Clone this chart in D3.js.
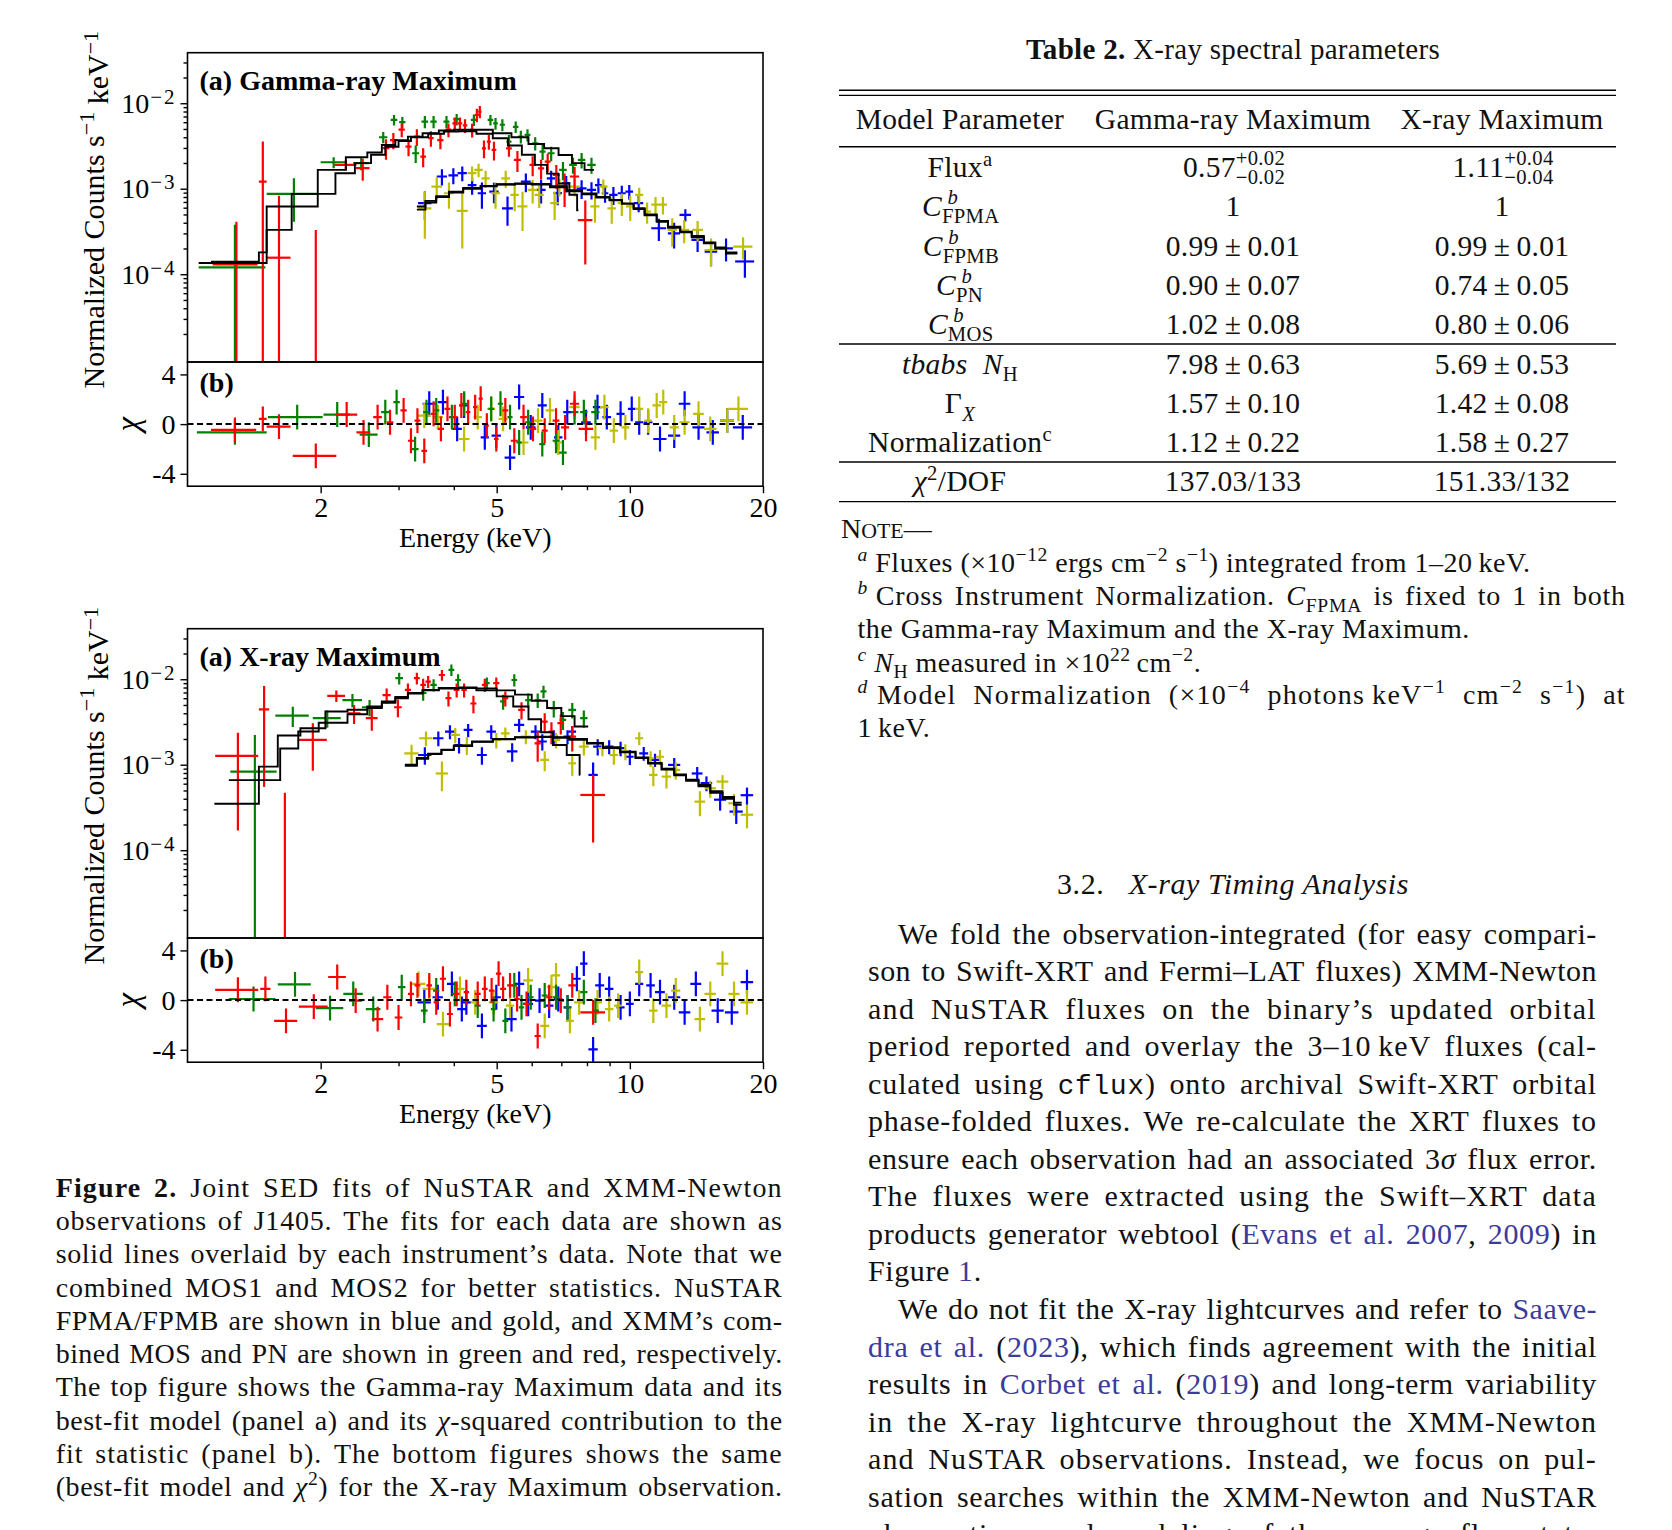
<!DOCTYPE html>
<html>
<head>
<meta charset="utf-8">
<script src="https://cdn.jsdelivr.net/npm/d3@7/dist/d3.min.js"></script>
<style>
body { margin: 0; background: #fff; }
#page { position: relative; width: 1672px; height: 1530px; overflow: hidden; background: #fff; color: #111; }
#page svg { position: absolute; left: 0; top: 0; }
.ln { position: absolute; white-space: nowrap; }
.just { display: flex; justify-content: space-between; }
.lk { color: #3b3b9c; }
.sp { font-size: 70%; position: relative; top: -0.55em; }
.sb { font-size: 70%; position: relative; top: 0.35em; }
.stk { position: relative; display: inline-block; height: 0; }
.stk span { position: absolute; left: 0; font-size: 70%; line-height: 1; }
.stk .up { bottom: 0.42em; }
.stk .dn { top: -0.48em; }
.tt { font-family: "Liberation Mono", "DejaVu Sans Mono", monospace; font-size: 92%; }
</style>
</head>
<body>
<div id="page"></div>
<script>
// ---------- Gamma-ray Maximum: spectra (flux in 1e-3 counts s^-1 keV^-1) ----------
var gPN_E   = [1.29, 1.48, 1.61, 1.95, 2.28, 2.49, 2.81, 2.92, 3.05, 3.16, 3.30, 3.41, 3.55, 3.73, 3.89, 4.02, 4.13, 4.24, 4.40, 4.51, 4.58, 4.68, 4.80, 4.93, 5.33, 5.57, 6.03, 6.30, 6.52, 6.82, 7.12, 7.50, 7.93];
var gPN_dE  = [0.15, 0.03, 0.10, 0.22, 0.13, 0.09, 0.05, 0.05, 0.05, 0.05, 0.05, 0.05, 0.05, 0.06, 0.06, 0.05, 0.05, 0.05, 0.05, 0.05, 0.04, 0.05, 0.05, 0.06, 0.08, 0.10, 0.10, 0.10, 0.10, 0.12, 0.15, 0.18, 0.30];
var gPN_f   = [0.13, 1.21, 0.156, -0.6, 1.90, 1.74, 2.98, 3.70, 4.90, 3.10, 4.07, 2.38, 3.90, 3.70, 4.90, 5.80, 5.80, 5.50, 4.87, 7.30, 7.97, 2.97, 3.56, 2.84, 2.97, 2.17, 1.90, 1.73, 2.07, 1.45, 1.06, 1.39, 0.43];
var gPN_err = [0.28, 2.35, 0.67, 0.93, 0.27, 0.50, 0.80, 0.80, 0.90, 0.70, 0.90, 0.60, 0.80, 0.80, 0.90, 1.00, 1.00, 1.00, 0.90, 1.30, 1.30, 0.70, 0.70, 0.70, 0.60, 0.60, 0.50, 0.45, 0.50, 0.45, 0.45, 0.40, 0.30];

var gMOS_E   = [1.28, 1.74, 2.14, 2.47, 2.77, 2.93, 3.06, 3.28, 3.44, 3.60, 3.85, 4.06, 4.44, 4.84, 4.97, 5.15, 5.33, 5.52, 5.67, 5.87, 6.11, 6.35, 6.64, 7.06, 7.44, 7.78, 8.19];
var gMOS_dE  = [0.22, 0.23, 0.14, 0.10, 0.06, 0.05, 0.05, 0.06, 0.06, 0.06, 0.06, 0.07, 0.07, 0.07, 0.06, 0.07, 0.07, 0.08, 0.08, 0.09, 0.10, 0.10, 0.12, 0.14, 0.15, 0.15, 0.18];
var gMOS_f   = [0.12, 0.87, 2.04, 1.99, 4.00, 6.40, 6.00, 2.60, 6.10, 6.10, 6.10, 6.50, 6.40, 6.40, 5.80, 5.60, 3.56, 5.30, 4.07, 4.26, 3.40, 2.72, 2.60, 1.66, 1.90, 2.17, 1.90];
var gMOS_err = [0.26, 0.46, 0.30, 0.35, 0.60, 0.90, 0.90, 0.60, 1.00, 1.00, 1.00, 1.00, 1.00, 0.90, 0.90, 0.90, 0.70, 0.80, 0.70, 0.70, 0.60, 0.55, 0.50, 0.40, 0.40, 0.45, 0.40];

var gFPMA_E   = [3.44, 3.76, 3.99, 4.18, 4.40, 4.63, 4.93, 5.29, 5.82, 6.30, 6.64, 6.87, 7.18, 7.78, 8.19, 8.49, 8.79, 9.18, 9.59, 9.97, 10.47, 11.63, 12.59, 13.35, 14.23, 15.26, 16.5, 18.2];
var gFPMA_dE  = [0.12, 0.10, 0.10, 0.10, 0.10, 0.10, 0.12, 0.15, 0.15, 0.15, 0.15, 0.15, 0.15, 0.20, 0.20, 0.15, 0.15, 0.20, 0.20, 0.20, 0.25, 0.45, 0.40, 0.40, 0.45, 0.50, 0.60, 0.90];
var gFPMA_f   = [0.68, 1.39, 1.43, 1.52, 1.10, 0.885, 0.925, 0.59, 1.21, 0.97, 1.32, 0.89, 1.16, 1.01, 0.97, 1.10, 0.885, 0.845, 0.885, 0.925, 0.68, 0.345, 0.30, 0.494, 0.252, 0.184, 0.201, 0.141];
var gFPMA_err = [0.25, 0.30, 0.30, 0.30, 0.25, 0.30, 0.25, 0.22, 0.30, 0.30, 0.30, 0.25, 0.25, 0.25, 0.22, 0.22, 0.20, 0.20, 0.20, 0.18, 0.15, 0.10, 0.10, 0.08, 0.07, 0.06, 0.06, 0.05];

var gFPMB_E   = [3.44, 3.66, 3.90, 4.18, 4.40, 4.55, 4.72, 4.97, 5.24, 5.49, 5.72, 6.03, 6.24, 6.76, 6.93, 7.50, 8.34, 8.71, 9.10, 9.59, 10.02, 10.5, 10.94, 11.43, 11.88, 12.47, 13.27, 14.23, 15.26, 18.03];
var gFPMB_dE  = [0.12, 0.10, 0.10, 0.12, 0.10, 0.10, 0.10, 0.12, 0.12, 0.12, 0.15, 0.15, 0.15, 0.15, 0.15, 0.20, 0.20, 0.20, 0.20, 0.20, 0.22, 0.22, 0.22, 0.25, 0.25, 0.30, 0.35, 0.40, 0.50, 0.90];
var gFPMB_f   = [0.59, 1.06, 0.885, 0.55, 1.52, 1.66, 1.32, 0.885, 1.32, 0.845, 0.62, 0.97, 0.845, 0.68, 1.06, 1.06, 0.62, 1.06, 0.59, 0.68, 0.62, 0.845, 0.54, 0.65, 0.65, 0.33, 0.33, 0.33, 0.192, 0.21];
var gFPMB_err = [0.33, 0.30, 0.30, 0.35, 0.30, 0.30, 0.30, 0.30, 0.30, 0.30, 0.30, 0.30, 0.25, 0.25, 0.25, 0.25, 0.22, 0.22, 0.20, 0.20, 0.20, 0.18, 0.15, 0.15, 0.15, 0.12, 0.10, 0.09, 0.07, 0.06];

// model step curves (bin edges in keV, values in 1e-3)
var gPN_mEdges  = [1.13, 1.45, 1.51, 1.72, 2.16, 2.39, 2.6, 2.8, 3.0, 3.2, 3.5, 3.8, 4.1, 4.5, 4.9, 5.3, 5.7, 6.1, 6.5, 6.9, 7.3, 7.6, 7.65];
var gPN_mVals   = [0.14, 0.18, 0.33, 0.87, 1.52, 1.99, 2.5, 3.1, 3.6, 4.0, 4.4, 4.65, 4.7, 4.4, 3.9, 3.2, 2.5, 1.9, 1.5, 1.15, 0.85, 0.56];
var gMOS_mEdges = [1.06, 1.51, 1.97, 2.28, 2.55, 2.75, 2.95, 3.15, 3.4, 3.7, 4.0, 4.4, 4.9, 5.4, 5.9, 6.4, 6.9, 7.4, 7.9, 8.3];
var gMOS_mVals  = [0.135, 0.62, 1.66, 2.33, 2.65, 3.25, 3.7, 4.07, 4.45, 4.8, 4.9, 4.9, 4.45, 4.0, 3.34, 2.97, 2.48, 1.99, 1.66];
var gNu_mEdges  = [3.3, 3.45, 3.65, 3.9, 4.2, 4.6, 5.0, 5.5, 6.0, 6.6, 7.2, 7.8, 8.4, 9.0, 9.6, 10.2, 10.8, 11.5, 12.2, 13.0, 13.8, 14.7, 15.6, 16.5, 17.5];
var gFPMA_mVals = [0.62, 0.72, 0.82, 0.92, 1.02, 1.08, 1.13, 1.15, 1.14, 1.07, 0.93, 0.86, 0.79, 0.73, 0.67, 0.59, 0.50, 0.41, 0.35, 0.31, 0.28, 0.235, 0.205, 0.18];
var gFPMB_mVals = [0.57, 0.69, 0.80, 0.90, 1.00, 1.07, 1.12, 1.14, 1.12, 1.04, 0.96, 0.88, 0.80, 0.74, 0.67, 0.58, 0.49, 0.42, 0.36, 0.315, 0.27, 0.23, 0.20, 0.175];

// residuals (chi)
var gPN_rE   = [1.28, 1.48, 1.61, 1.95, 2.29, 2.5, 2.69, 2.87, 3.08, 3.2, 3.31, 3.43, 3.6, 3.74, 3.87, 4.02, 4.16, 4.31, 4.47, 4.6, 4.75, 4.99, 5.23, 5.48, 5.75, 6.04, 6.42, 6.81, 7.14, 7.5, 7.96];
var gPN_rdE  = [0.15, 0.03, 0.10, 0.22, 0.13, 0.09, 0.06, 0.05, 0.05, 0.05, 0.05, 0.05, 0.05, 0.06, 0.06, 0.05, 0.05, 0.05, 0.05, 0.05, 0.05, 0.06, 0.08, 0.10, 0.10, 0.10, 0.10, 0.12, 0.15, 0.18, 0.30];
var gPN_chi  = [-0.47, 0.42, -0.2, -2.56, 0.77, -0.66, 0.56, 0.15, 1.1, -1.34, 0.28, -2.15, 0.83, -0.39, 1.23, 0.56, 1.5, 0.96, 1.37, 2.05, -0.12, -1.2, 1.1, -1.34, 0.56, -0.39, -0.53, 0.28, -0.26, 1.64, -0.39];
var gMOS_rE  = [1.28, 1.77, 2.18, 2.57, 2.8, 2.97, 3.27, 3.47, 3.65, 3.96, 4.22, 4.86, 5.1, 5.36, 5.62, 5.89, 6.34, 6.81, 7.06, 7.5, 7.87, 8.36];
var gMOS_rdE = [0.23, 0.25, 0.15, 0.12, 0.06, 0.05, 0.06, 0.06, 0.06, 0.06, 0.07, 0.07, 0.07, 0.07, 0.08, 0.09, 0.10, 0.12, 0.14, 0.15, 0.15, 0.18];
var gMOS_chi = [-0.66, 0.56, 0.77, -0.85, 0.96, 1.77, -2.02, 0.96, 1.1, 0.56, 1.64, 1.23, 1.64, 0.56, -1.48, 0.15, -1.61, -1.34, -2.29, 0.96, 0.96, 0.96];
var gFPMA_rE  = [3.52, 3.78, 4.07, 4.22, 4.7, 4.99, 5.36, 5.62, 5.97, 6.34, 6.89, 7.22, 7.96, 8.45, 8.87, 9.53, 10.1, 10.5, 11.0, 11.7, 12.6, 13.3, 14.3, 15.4, 16.6, 18.0];
var gFPMA_rdE = [0.12, 0.10, 0.10, 0.10, 0.10, 0.12, 0.15, 0.15, 0.15, 0.15, 0.15, 0.15, 0.20, 0.20, 0.20, 0.20, 0.20, 0.22, 0.25, 0.40, 0.40, 0.40, 0.45, 0.50, 0.60, 0.90];
var gFPMA_chi = [1.64, 1.77, -0.39, 1.5, -1.07, -0.93, -2.7, 2.18, -0.26, 1.5, -1.07, 0.96, 0.15, 1.37, 0.56, 0.83, 1.23, 0.15, 0.15, -1.2, -0.93, 1.64, -0.26, -0.66, 0.28, -0.26];
var gFPMB_rE  = [3.43, 3.68, 4.22, 4.53, 4.86, 5.17, 5.75, 6.2, 6.6, 6.89, 7.5, 8.36, 8.76, 9.2, 9.77, 10.5, 11.0, 11.5, 11.9, 12.6, 13.3, 14.3, 15.2, 16.6, 17.6];
var gFPMB_rdE = [0.12, 0.10, 0.12, 0.10, 0.10, 0.12, 0.15, 0.15, 0.15, 0.15, 0.20, 0.20, 0.20, 0.20, 0.20, 0.22, 0.22, 0.25, 0.25, 0.30, 0.35, 0.40, 0.50, 0.60, 0.90];
var gFPMB_chi = [0.69, 0.56, -1.2, 0.56, 1.23, 0.42, -1.48, 0.28, 1.1, -1.48, 1.37, -1.07, 1.37, -0.53, -0.26, 1.23, 0.28, 1.5, 1.77, -0.26, 0.15, 0.83, -0.39, 0.28, 1.23];

// ---------- X-ray Maximum ----------
var xPN_E   = [1.30, 1.49, 1.66, 1.92, 2.17, 2.38, 2.61, 2.82, 2.99, 3.15, 3.30, 3.41, 3.50, 3.76, 3.89, 4.06, 4.22, 4.43, 4.70, 4.99, 5.23, 5.69, 6.19, 6.42, 6.65, 6.98, 7.41, 8.26];
var xPN_dE  = [0.145, 0.04, 0.10, 0.145, 0.10, 0.08, 0.08, 0.06, 0.06, 0.05, 0.05, 0.05, 0.05, 0.06, 0.06, 0.06, 0.06, 0.07, 0.07, 0.08, 0.08, 0.10, 0.10, 0.10, 0.10, 0.12, 0.15, 0.53];
var xPN_f   = [1.27, 4.45, -0.1, 1.95, 6.4, 4.0, 3.5, 6.5, 4.7, 7.5, 10.3, 8.6, 9.4, 11.2, 6.0, 7.5, 7.5, 5.2, 8.6, 9.0, 6.0, 4.38, 1.78, 3.19, 2.44, 3.06, 2.13, 0.443];
var xPN_err = [1.1, 3.9, 0.57, 1.1, 1.0, 1.0, 1.0, 1.3, 1.1, 1.4, 1.6, 1.5, 1.5, 1.6, 1.2, 1.4, 1.4, 1.2, 1.5, 1.5, 1.2, 1.0, 0.7, 0.8, 0.7, 0.8, 0.7, 0.32];

var xMOS_E   = [1.42, 1.73, 2.07, 2.36, 2.58, 3.01, 3.41, 3.60, 3.95, 4.09, 4.75, 5.17, 5.48, 5.89, 6.19, 6.38, 6.73, 7.06, 7.41, 7.87];
var xMOS_dE  = [0.17, 0.15, 0.15, 0.12, 0.10, 0.06, 0.06, 0.06, 0.06, 0.06, 0.07, 0.08, 0.08, 0.09, 0.10, 0.10, 0.12, 0.12, 0.15, 0.15];
var xMOS_f   = [0.83, 3.76, 3.5, 5.7, 4.7, 10.3, 6.9, 8.6, 12.9, 9.8, 9.0, 5.5, 9.8, 5.7, 5.7, 7.2, 4.57, 3.34, 4.38, 3.5];
var xMOS_err = [1.4, 1.0, 0.8, 1.0, 1.0, 1.6, 1.3, 1.4, 2.0, 1.6, 1.5, 1.1, 1.6, 1.1, 1.1, 1.2, 1.0, 0.8, 0.9, 0.8];

var xFPMA_E   = [3.44, 3.69, 3.92, 4.11, 4.31, 4.63, 4.86, 5.42, 5.62, 6.12, 6.34, 6.73, 7.23, 7.41, 8.26, 8.46, 8.98, 9.53, 10.0, 10.75, 11.4, 12.6, 14.2, 14.9, 16.0, 17.4, 18.4];
var xFPMA_dE  = [0.12, 0.10, 0.10, 0.10, 0.10, 0.12, 0.12, 0.15, 0.15, 0.15, 0.15, 0.15, 0.15, 0.15, 0.20, 0.20, 0.20, 0.20, 0.20, 0.25, 0.30, 0.40, 0.40, 0.45, 0.50, 0.60, 0.60];
var xFPMA_f   = [1.3, 2.04, 2.44, 1.7, 2.55, 1.3, 2.44, 1.43, 2.92, 2.44, 1.87, 2.13, 2.13, 2.44, 0.76, 1.63, 1.63, 1.56, 1.24, 1.36, 1.14, 0.995, 0.79, 0.61, 0.39, 0.283, 0.44];
var xFPMA_err = [0.30, 0.40, 0.45, 0.35, 0.45, 0.30, 0.45, 0.35, 0.50, 0.45, 0.40, 0.40, 0.40, 0.40, 0.30, 0.35, 0.30, 0.30, 0.25, 0.25, 0.20, 0.20, 0.15, 0.12, 0.10, 0.08, 0.10];

var xFPMB_E   = [3.21, 3.46, 3.76, 4.03, 4.28, 4.99, 5.23, 5.82, 6.42, 6.81, 7.41, 7.87, 8.67, 9.2, 9.77, 10.5, 11.14, 11.3, 11.7, 12.1, 12.7, 14.4, 15.2, 16.2, 17.2, 18.4];
var xFPMB_dE  = [0.12, 0.12, 0.12, 0.10, 0.10, 0.12, 0.12, 0.15, 0.15, 0.15, 0.15, 0.20, 0.20, 0.20, 0.20, 0.22, 0.22, 0.25, 0.25, 0.30, 0.30, 0.40, 0.45, 0.50, 0.50, 0.60];
var xFPMB_f   = [1.36, 2.04, 0.79, 2.23, 1.7, 1.95, 2.33, 2.13, 1.14, 1.95, 1.04, 1.63, 1.56, 1.3, 1.43, 2.04, 1.19, 0.76, 1.24, 0.726, 0.87, 0.37, 0.53, 0.635, 0.354, 0.26];
var xFPMB_err = [0.35, 0.40, 0.30, 0.45, 0.40, 0.40, 0.40, 0.40, 0.30, 0.40, 0.30, 0.35, 0.30, 0.30, 0.30, 0.35, 0.25, 0.20, 0.25, 0.20, 0.20, 0.12, 0.12, 0.12, 0.10, 0.08];

var xPN_mEdges  = [1.15, 1.45, 1.62, 1.78, 1.98, 2.3, 2.55, 2.75, 2.95, 3.15, 3.4, 3.7, 4.1, 4.5, 5.0, 5.45, 5.9, 6.3, 6.7, 7.2, 7.7, 7.72];
var xPN_mVals   = [0.35, 0.66, 1.55, 2.45, 3.1, 3.9, 4.6, 5.3, 6.0, 6.8, 7.4, 7.8, 7.9, 7.4, 6.3, 4.8, 3.4, 2.4, 1.7, 1.3, 0.76];
var xMOS_mEdges = [1.24, 1.45, 1.6, 1.8, 2.05, 2.3, 2.55, 2.75, 2.95, 3.15, 3.4, 3.7, 4.1, 4.5, 5.0, 5.5, 6.0, 6.5, 7.0, 7.5, 8.05];
var xMOS_mVals  = [0.66, 0.95, 2.2, 2.67, 4.2, 4.4, 4.8, 5.5, 6.2, 6.9, 7.5, 7.9, 8.0, 7.8, 7.4, 6.6, 5.6, 4.6, 3.7, 2.8];
var xNu_mEdges  = [3.1, 3.3, 3.5, 3.75, 4.0, 4.4, 4.9, 5.5, 6.1, 6.7, 7.3, 8.0, 8.7, 9.5, 10.3, 11.0, 11.8, 12.6, 13.4, 14.3, 15.2, 16.2, 17.2, 17.9];
var xFPMA_mVals = [1.0, 1.2, 1.35, 1.5, 1.68, 1.87, 2.0, 2.1, 2.13, 2.1, 2.0, 1.8, 1.6, 1.42, 1.22, 1.05, 0.90, 0.77, 0.67, 0.58, 0.49, 0.42, 0.36];
var xFPMB_mVals = [0.97, 1.17, 1.33, 1.48, 1.65, 1.85, 1.98, 2.08, 2.11, 2.07, 1.96, 1.77, 1.57, 1.40, 1.20, 1.03, 0.88, 0.75, 0.65, 0.56, 0.47, 0.40, 0.34];

var xPN_rE   = [1.3, 1.5, 1.67, 1.93, 2.18, 2.4, 2.69, 2.83, 3.0, 3.2, 3.31, 3.52, 3.65, 3.78, 3.92, 4.06, 4.27, 4.53, 4.7, 4.87, 5.05, 5.17, 5.36, 5.56, 5.84, 6.19, 6.57, 6.98, 7.41, 8.26];
var xPN_rdE  = [0.145, 0.04, 0.10, 0.145, 0.10, 0.08, 0.08, 0.06, 0.06, 0.05, 0.05, 0.05, 0.05, 0.06, 0.06, 0.06, 0.06, 0.07, 0.07, 0.07, 0.07, 0.08, 0.08, 0.08, 0.10, 0.10, 0.10, 0.12, 0.15, 0.53];
var xPN_chi  = [0.83, 0.91, -1.67, -0.53, 1.86, -0.04, -1.53, 0.23, -1.4, 0.5, 1.18, 1.18, -0.18, 1.72, -1.12, 0.5, 0.64, 0.5, 0.91, 0.77, 2.13, 0.91, 1.18, 0.09, -0.31, -2.89, 0.23, -0.04, 1.18, -0.99];
var xMOS_rE  = [1.41, 1.75, 2.1, 2.37, 2.63, 3.05, 3.43, 3.65, 4.02, 4.53, 4.92, 5.23, 5.48, 5.69, 5.97, 6.42, 6.81, 7.23, 7.87, 8.36];
var xMOS_rdE = [0.17, 0.15, 0.15, 0.12, 0.10, 0.06, 0.06, 0.06, 0.06, 0.07, 0.07, 0.08, 0.08, 0.08, 0.09, 0.10, 0.12, 0.12, 0.15, 0.15];
var xMOS_chi = [0.09, 1.26, -0.64, 0.5, -0.72, 1.04, -0.85, 0.77, 0.5, -0.45, -0.72, -1.67, 1.18, -0.58, 0.23, 0.37, 0.23, -0.58, 0.64, -0.85];
var xFPMA_rE  = [3.43, 3.68, 3.96, 4.17, 4.27, 4.63, 4.99, 5.4, 5.62, 5.89, 6.25, 6.57, 6.89, 7.23, 7.59, 7.87, 8.26, 8.55, 8.98, 9.53, 10.0, 10.5, 11.14, 11.7, 12.6, 13.3, 14.1, 15.8, 17.0, 18.4];
var xFPMA_rdE = [0.12, 0.10, 0.10, 0.10, 0.10, 0.12, 0.12, 0.15, 0.15, 0.15, 0.15, 0.15, 0.15, 0.15, 0.15, 0.15, 0.20, 0.20, 0.20, 0.20, 0.20, 0.22, 0.25, 0.30, 0.40, 0.40, 0.40, 0.50, 0.60, 0.60];
var xFPMA_chi = [-0.18, 0.23, 1.31, -0.72, -0.18, -2.07, 0.23, -1.53, 1.31, -0.31, -0.04, -0.45, 0.09, -0.58, 1.72, 2.94, -3.97, 1.18, 0.91, -0.58, -0.31, 1.31, 1.18, 0.64, 0.23, -0.99, 1.31, -0.85, -0.99, 1.45];
var xFPMB_rE  = [3.33, 3.52, 3.78, 4.13, 4.47, 4.92, 5.36, 5.89, 6.42, 6.65, 6.81, 7.32, 7.68, 8.45, 8.98, 9.41, 10.5, 11.3, 12.1, 12.7, 14.4, 15.2, 16.2, 17.2, 18.4];
var xFPMB_rdE = [0.12, 0.12, 0.12, 0.10, 0.10, 0.12, 0.12, 0.15, 0.15, 0.15, 0.15, 0.15, 0.20, 0.20, 0.20, 0.20, 0.22, 0.25, 0.30, 0.30, 0.40, 0.45, 0.50, 0.50, 0.60];
var xFPMB_chi = [1.31, 0.91, -1.94, 0.91, -0.18, -0.18, -0.45, 1.59, -2.07, 1.04, 1.99, -1.67, -0.18, -0.18, -0.72, -0.45, 2.26, -0.85, -0.45, 0.77, -1.53, 0.5, 2.94, 0.5, -0.18];

// axis ticks
var xMajor = [2, 5, 10, 20];
var xMinor = [3, 4, 6, 7, 8, 9];
var yMajor = [1e-4, 1e-3, 1e-2];
var rMajor = [-4, 0, 4];

var colPN = "#ff0000", colMOS = "#008000", colFPMA = "#0000ff", colFPMB = "#bfbf00";

var page = d3.select("#page");
var svg = page.append("svg").attr("width", 1672).attr("height", 1530);

var X0 = 187.5, X1 = 763, HA = 309.3, HB = 124.2;
var FONT = "Liberation Serif, Times New Roman, serif";

function pts(E, dE, f, err) {
    return E.map(function(e, i){ return {e: e, de: dE[i], f: f[i] * 1e-3, err: err[i] * 1e-3}; });
}
function res(E, dE, chi) {
    return E.map(function(e, i){ return {e: e, de: dE[i], f: chi[i], err: 1}; });
}
function steps(edges, vals) {
    return edges.map(function(e, i){ return {e: e, v: vals[Math.min(i, vals.length - 1)] * 1e-3}; });
}

function errBars(g, data, x, y, color, logY) {
    var bottom = y.range()[0];
    var lo = y.domain()[0];
    var s = g.append("g").attr("stroke", color).attr("stroke-width", 2.2)
        .selectAll("g").data(data).join("g");
    s.append("line")
        .attr("x1", function(d){ return x(d.e); })
        .attr("x2", function(d){ return x(d.e); })
        .attr("y1", function(d){ return (!logY || d.f - d.err > lo) ? y(d.f - d.err) : bottom + 5; })
        .attr("y2", function(d){ return y(d.f + d.err); });
    s.filter(function(d){ return !logY || d.f > 0; }).append("line")
        .attr("x1", function(d){ return x(d.e - d.de); })
        .attr("x2", function(d){ return x(d.e + d.de); })
        .attr("y1", function(d){ return y(d.f); })
        .attr("y2", function(d){ return y(d.f); });
}

var clipN = 0;
function drawSpectrum(top, title, sets, models, resids) {
    var x = d3.scaleLog().domain([1, 20]).range([X0, X1]);
    var yA = d3.scaleLog().domain([9.4e-6, 3.9e-2]).range([top + HA, top]);
    var yB = d3.scaleLinear().domain([-5, 5]).range([top + HA + HB, top + HA]);

    var g = svg.append("g");
    var idA = "clipA" + (clipN), idB = "clipB" + (clipN++);
    g.append("clipPath").attr("id", idA).append("rect")
        .attr("x", X0).attr("y", top).attr("width", X1 - X0).attr("height", HA);
    g.append("clipPath").attr("id", idB).append("rect")
        .attr("x", X0).attr("y", top + HA).attr("width", X1 - X0).attr("height", HB);

    var pa = g.append("g").attr("clip-path", "url(#" + idA + ")");
    sets.forEach(function(s){ errBars(pa, s.data, x, yA, s.color, true); });
    var line = d3.line().x(function(d){ return x(d.e); }).y(function(d){ return yA(d.v); })
        .curve(d3.curveStepAfter);
    models.forEach(function(m){
        pa.append("path").attr("d", line(m)).attr("fill", "none")
            .attr("stroke", "#000").attr("stroke-width", 1.9);
    });

    var pb = g.append("g").attr("clip-path", "url(#" + idB + ")");
    resids.forEach(function(s){ errBars(pb, s.data, x, yB, s.color, false); });
    pb.append("line").attr("x1", X0).attr("x2", X1).attr("y1", yB(0)).attr("y2", yB(0))
        .attr("stroke", "#000").attr("stroke-width", 2).attr("stroke-dasharray", "6,3.5");

    // frames
    g.append("rect").attr("x", X0).attr("y", top).attr("width", X1 - X0).attr("height", HA)
        .attr("fill", "none").attr("stroke", "#000").attr("stroke-width", 1.6);
    g.append("rect").attr("x", X0).attr("y", top + HA).attr("width", X1 - X0).attr("height", HB)
        .attr("fill", "none").attr("stroke", "#000").attr("stroke-width", 1.6);

    // y axis panel a
    var yMinor = [];
    for (var k = -6; k <= -2; k++) for (var m = 2; m <= 9; m++) {
        var v = m * Math.pow(10, k);
        if (v > 9.4e-6 && v < 3.9e-2) yMinor.push(v);
    }
    var ayMin = g.append("g").attr("transform", "translate(" + X0 + ",0)")
        .call(d3.axisLeft(yA).tickValues(yMinor).tickSize(4).tickSizeOuter(0).tickFormat(""));
    var ay = g.append("g").attr("transform", "translate(" + X0 + ",0)")
        .call(d3.axisLeft(yA).tickValues(yMajor).tickSize(7).tickSizeOuter(0).tickPadding(4).tickFormat(""));
    ay.selectAll(".tick text").each(function(d){
        var t = d3.select(this);
        t.append("tspan").text("10");
        t.append("tspan").attr("dy", "-0.42em").attr("dx", "1").attr("font-size", "21px")
            .attr("letter-spacing", "2px").text("\u2212" + Math.abs(Math.round(Math.log10(d))));
    });
    // y axis panel b
    var ar = g.append("g").attr("transform", "translate(" + X0 + ",0)")
        .call(d3.axisLeft(yB).tickValues(rMajor).tickSize(7).tickSizeOuter(0).tickPadding(5)
            .tickFormat(function(d){ return String(d); }));
    // x axis
    var axMin = g.append("g").attr("transform", "translate(0," + (top + HA + HB) + ")")
        .call(d3.axisBottom(x).tickValues(xMinor).tickSize(4).tickSizeOuter(0).tickFormat(""));
    var ax = g.append("g").attr("transform", "translate(0," + (top + HA + HB) + ")")
        .call(d3.axisBottom(x).tickValues(xMajor).tickSize(7).tickSizeOuter(0).tickPadding(4)
            .tickFormat(d3.format("d")));

    [ayMin, ay, ar, axMin, ax].forEach(function(a){
        a.select(".domain").remove();
        a.selectAll(".tick line").attr("stroke", "#000").attr("stroke-width", 1.4);
        a.selectAll("text").attr("font-family", FONT).attr("font-size", "28px").attr("fill", "#000");
    });

    // titles and labels
    g.append("text").attr("x", 199.5).attr("y", top + 37.5).attr("font-family", FONT)
        .attr("font-weight", "bold").attr("font-size", "28px").text(title);
    g.append("text").attr("x", 199.5).attr("y", top + 339.5).attr("font-family", FONT)
        .attr("font-weight", "bold").attr("font-size", "28px").text("(b)");
    g.append("text").attr("x", (X0 + X1) / 2).attr("y", top + 494).attr("text-anchor", "middle")
        .attr("font-family", FONT).attr("font-size", "28px").text("Energy (keV)");

    var yl = g.append("text").attr("transform", "translate(104," + (top + 157) + ") rotate(-90)")
        .attr("text-anchor", "middle").attr("font-family", FONT).attr("font-size", "30px");
    yl.append("tspan").text("Normalized Counts s");
    yl.append("tspan").attr("dy", "-0.45em").attr("font-size", "22px").text("\u22121");
    yl.append("tspan").attr("dy", "0.45em").text(" keV");
    yl.append("tspan").attr("dy", "-0.45em").attr("font-size", "22px").text("\u22121");

    g.append("text").attr("transform", "translate(139," + (top + 371.5) + ") rotate(-90)")
        .attr("text-anchor", "middle").attr("font-family", FONT).attr("font-style", "italic")
        .attr("font-size", "33px").text("\u03c7");
}

drawSpectrum(52.7, "(a) Gamma-ray Maximum",
    [{data: pts(gFPMA_E, gFPMA_dE, gFPMA_f, gFPMA_err), color: colFPMA},
     {data: pts(gFPMB_E, gFPMB_dE, gFPMB_f, gFPMB_err), color: colFPMB},
     {data: pts(gMOS_E, gMOS_dE, gMOS_f, gMOS_err), color: colMOS},
     {data: pts(gPN_E, gPN_dE, gPN_f, gPN_err), color: colPN}],
    [steps(gMOS_mEdges, gMOS_mVals), steps(gPN_mEdges, gPN_mVals),
     steps(gNu_mEdges, gFPMA_mVals), steps(gNu_mEdges, gFPMB_mVals)],
    [{data: res(gFPMA_rE, gFPMA_rdE, gFPMA_chi), color: colFPMA},
     {data: res(gFPMB_rE, gFPMB_rdE, gFPMB_chi), color: colFPMB},
     {data: res(gMOS_rE, gMOS_rdE, gMOS_chi), color: colMOS},
     {data: res(gPN_rE, gPN_rdE, gPN_chi), color: colPN}]);

drawSpectrum(628.7, "(a) X-ray Maximum",
    [{data: pts(xFPMA_E, xFPMA_dE, xFPMA_f, xFPMA_err), color: colFPMA},
     {data: pts(xFPMB_E, xFPMB_dE, xFPMB_f, xFPMB_err), color: colFPMB},
     {data: pts(xMOS_E, xMOS_dE, xMOS_f, xMOS_err), color: colMOS},
     {data: pts(xPN_E, xPN_dE, xPN_f, xPN_err), color: colPN}],
    [steps(xMOS_mEdges, xMOS_mVals), steps(xPN_mEdges, xPN_mVals),
     steps(xNu_mEdges, xFPMA_mVals), steps(xNu_mEdges, xFPMB_mVals)],
    [{data: res(xFPMA_rE, xFPMA_rdE, xFPMA_chi), color: colFPMA},
     {data: res(xFPMB_rE, xFPMB_rdE, xFPMB_chi), color: colFPMB},
     {data: res(xMOS_rE, xMOS_rdE, xMOS_chi), color: colMOS},
     {data: res(xPN_rE, xPN_rdE, xPN_chi), color: colPN}]);

// ---------- table ----------
var tableRules = [90.2, 95.4, 146.8, 344, 462, 501.6];
svg.selectAll(".rule").data(tableRules).join("line").attr("class", "rule")
    .attr("x1", 839).attr("x2", 1616).attr("y1", function(d){ return d; }).attr("y2", function(d){ return d; })
    .attr("stroke", "#000").attr("stroke-width", 1.4);

// one line of page text; justified lines spread their slack over letters and word gaps
function line(x, cy, w, html, o) {
    o = o || {};
    var fs = o.fs || 30, L = o.lh || 37.5;
    var div = page.append("div").attr("class", "ln")
        .style("font-family", FONT)
        .style("left", x + "px").style("top", (cy - L / 2 - 0.09 * fs) + "px")
        .style("font-size", fs + "px").style("line-height", L + "px")
        .style("letter-spacing", (o.ls || 0) + "px");
    if (o.justify) {
        div.html(html);
        var nat = div.node().getBoundingClientRect().width;
        var n = div.node().textContent.length;
        var ls = Math.max(-0.3, Math.min(1.3, (w - nat) * 0.6 / n));
        div.html("").classed("just", true).style("width", w + "px").style("letter-spacing", ls + "px");
        html.split(/ (?![^<]*>)/).forEach(function(wd){ div.append("span").html(wd); });
    } else if (o.center) {
        div.style("left", (x - w / 2) + "px").style("width", w + "px").style("text-align", "center").html(html);
    } else {
        div.html(html);
    }
    return div;
}

var tableCols = [960, 1233, 1502];
var tableRowsY = [170, 209, 248.5, 288, 326.8, 366.4, 406, 444.6, 484];
var tableHead = ["Model Parameter", "Gamma-ray Maximum", "X-ray Maximum"];
var tableParams = [
    'Flux<span class="sp">a</span>',
    '<i>C</i><span class="stk" style="width:1.9em"><span class="up">&nbsp;<i>b</i></span><span class="dn">FPMA</span></span>',
    '<i>C</i><span class="stk" style="width:1.85em"><span class="up">&nbsp;<i>b</i></span><span class="dn">FPMB</span></span>',
    '<i>C</i><span class="stk" style="width:0.95em"><span class="up">&nbsp;<i>b</i></span><span class="dn">PN</span></span>',
    '<i>C</i><span class="stk" style="width:1.5em"><span class="up">&nbsp;<i>b</i></span><span class="dn">MOS</span></span>',
    '<i>tbabs</i>&nbsp; <i>N</i><span class="sb">H</span>',
    '\u0393<span class="sb"><i>X</i></span>',
    'Normalization<span class="sp">c</span>',
    '<i>\u03c7</i><span class="sp">2</span>/DOF'];
var tableGamma = ['0.57<span class="stk" style="width:1.6em"><span class="up">+0.02</span><span class="dn">\u22120.02</span></span>',
    "1", "0.99&#8201;\u00b1&#8201;0.01", "0.90&#8201;\u00b1&#8201;0.07", "1.02&#8201;\u00b1&#8201;0.08",
    "7.98&#8201;\u00b1&#8201;0.63", "1.57&#8201;\u00b1&#8201;0.10", "1.12&#8201;\u00b1&#8201;0.22", "137.03/133"];
var tableXray = ['1.11<span class="stk" style="width:1.6em"><span class="up">+0.04</span><span class="dn">\u22120.04</span></span>',
    "1", "0.99&#8201;\u00b1&#8201;0.01", "0.74&#8201;\u00b1&#8201;0.05", "0.80&#8201;\u00b1&#8201;0.06",
    "5.69&#8201;\u00b1&#8201;0.53", "1.42&#8201;\u00b1&#8201;0.08", "1.58&#8201;\u00b1&#8201;0.27", "151.33/132"];

var TFS = 29.5;
line(1233, 52.6, 700, "<b>Table 2.</b> X-ray spectral parameters", {center: true, fs: 29, ls: 0.3});
tableHead.forEach(function(h, i){ line(tableCols[i], 122, 380, h, {center: true, fs: TFS, ls: 0.3}); });
tableRowsY.forEach(function(cy, r){
    line(tableCols[0], cy, 380, tableParams[r], {center: true, fs: TFS, ls: 0.3, lh: 30});
    line(tableCols[1], cy, 380, tableGamma[r], {center: true, fs: TFS, ls: 0.3, lh: 30});
    line(tableCols[2], cy, 380, tableXray[r], {center: true, fs: TFS, ls: 0.3, lh: 30});
});

// notes
var NFS = 28, NL = 27;
line(841, 531.5, 0, 'N<span style="font-size:78%">OTE</span>\u2014', {fs: NFS, lh: NL});
line(857.5, 565, 0, '<span class="sp"><i>a</i></span>&nbsp;Fluxes (\u00d710<span class="sp">\u221212</span> ergs cm<span class="sp">\u22122</span> s<span class="sp">\u22121</span>) integrated from 1\u201320&#8201;keV.', {fs: NFS, lh: NL, ls: 0.5});
line(857.5, 598, 768.5, '<span class="sp"><i>b</i></span>&nbsp;Cross Instrument Normalization. <i>C</i><span class="sb">FPMA</span> is fixed to 1 in both', {fs: NFS, lh: NL, justify: true});
line(857.5, 631.4, 0, 'the Gamma-ray Maximum and the X-ray Maximum.', {fs: NFS, lh: NL, ls: 0.5});
line(857.5, 664.6, 0, '<span class="sp"><i>c</i></span>&nbsp;<i>N</i><span class="sb">H</span> measured in \u00d710<span class="sp">22</span>&#8201;cm<span class="sp">\u22122</span>.', {fs: NFS, lh: NL, ls: 0.5});
line(857.5, 696.7, 768.5, '<span class="sp"><i>d</i></span>&nbsp;Model Normalization (\u00d710<span class="sp">\u22124</span> photons&#8201;keV<span class="sp">\u22121</span> cm<span class="sp">\u22122</span> s<span class="sp">\u22121</span>) at', {fs: NFS, lh: NL, justify: true});
line(857.5, 730, 0, '1&#8201;keV.', {fs: NFS, lh: NL, ls: 0.5});

// section text
line(1233, 886.5, 729, '3.2.&nbsp;&nbsp; <i>X-ray Timing Analysis</i>', {center: true, fs: 30, ls: 0.6});

var para1 = [
    "We fold the observation-integrated (for easy compari-",
    "son to Swift-XRT and Fermi\u2013LAT fluxes) XMM-Newton",
    "and NuSTAR fluxes on the binary\u2019s updated orbital",
    "period reported and overlay the 3\u201310&#8201;keV fluxes (cal-",
    'culated using <span class="tt">cflux</span>) onto archival Swift-XRT orbital',
    "phase-folded fluxes. We re-calculate the XRT fluxes to",
    "ensure each observation had an associated 3<i>\u03c3</i> flux error.",
    "The fluxes were extracted using the Swift\u2013XRT data",
    'products generator webtool (<span class="lk">Evans</span> <span class="lk">et</span> <span class="lk">al.</span> <span class="lk">2007</span>, <span class="lk">2009</span>) in'];
var para2 = [
    'We do not fit the X-ray lightcurves and refer to <span class="lk">Saave-</span>',
    '<span class="lk">dra</span> <span class="lk">et</span> <span class="lk">al.</span> (<span class="lk">2023</span>), which finds agreement with the initial',
    'results in <span class="lk">Corbet</span> <span class="lk">et</span> <span class="lk">al.</span> (<span class="lk">2019</span>) and long-term variability',
    "in the X-ray lightcurve throughout the XMM-Newton",
    "and NuSTAR observations. Instead, we focus on pul-",
    "sation searches within the XMM-Newton and NuSTAR",
    "observations and modeling of the average flux state."];

para1.forEach(function(t, i){
    var x = i === 0 ? 898 : 868;
    line(x, 936.3 + 37.5 * i, 1597 - x, t, {justify: true});
});
line(868, 1273.8, 0, 'Figure <span class="lk">1</span>.', {ls: 0.6});
para2.forEach(function(t, i){
    var x = i === 0 ? 898 : 868;
    line(x, 1311.5 + 37.5 * i, 1597 - x, t, {justify: true});
});

// caption
var caption = [
    "<b>Figure</b> <b>2.</b> Joint SED fits of NuSTAR and XMM-Newton",
    "observations of J1405. The fits for each data are shown as",
    "solid lines overlaid by each instrument\u2019s data. Note that we",
    "combined MOS1 and MOS2 for better statistics. NuSTAR",
    "FPMA/FPMB are shown in blue and gold, and XMM\u2019s com-",
    "bined MOS and PN are shown in green and red, respectively.",
    "The top figure shows the Gamma-ray Maximum data and its",
    "best-fit model (panel a) and its <i>\u03c7</i>-squared contribution to the",
    "fit statistic (panel b). The bottom figures shows the same",
    "(best-fit model and <i>\u03c7</i><span class=\"sp\">2</span>) for the X-ray Maximum observation."];
caption.forEach(function(t, i){
    line(55.7, 1190 + 33.23 * i, 727, t, {justify: true, fs: 28, lh: 33});
});
</script>
</body>
</html>
